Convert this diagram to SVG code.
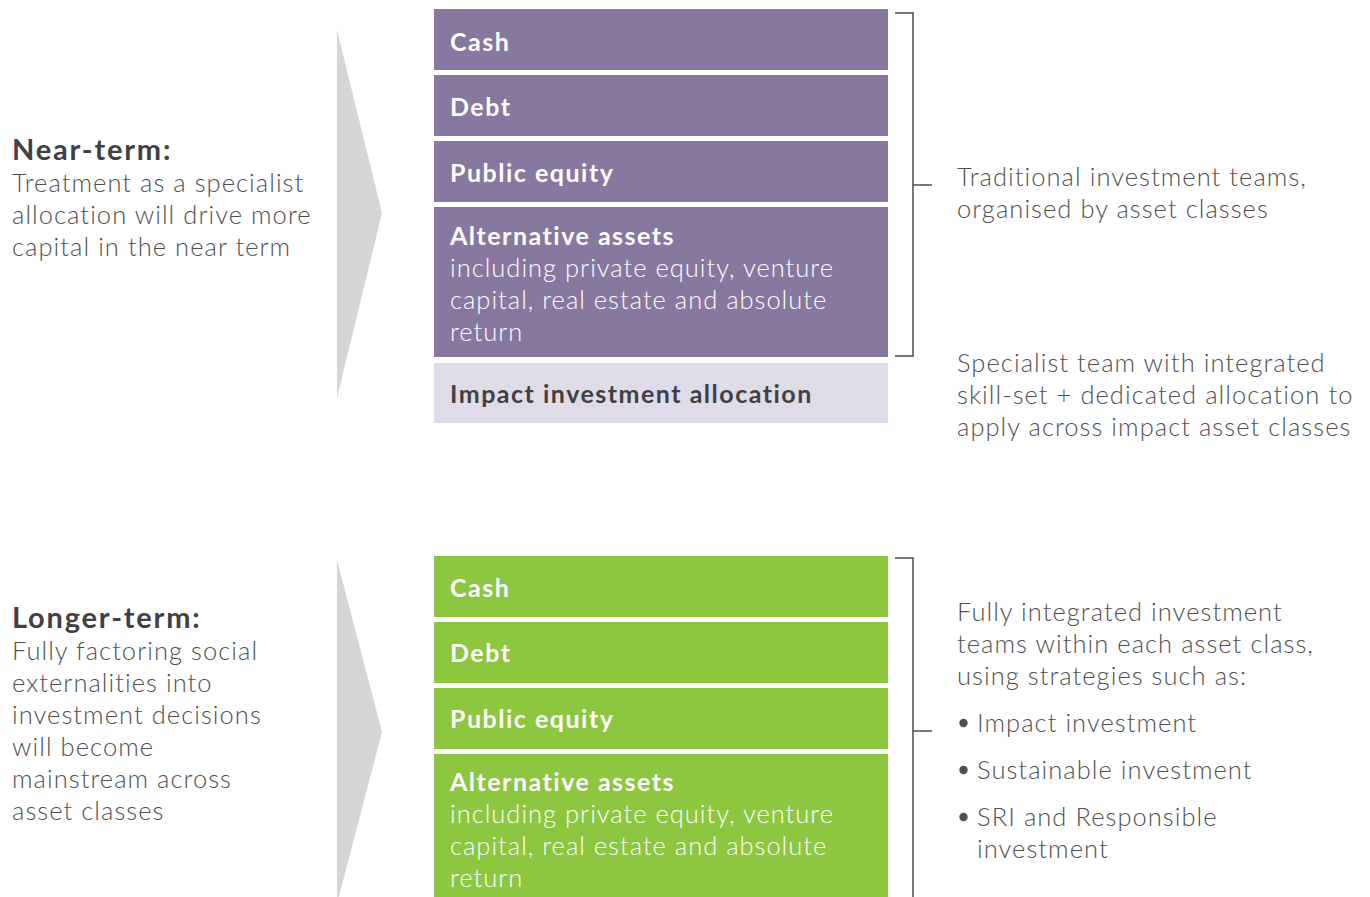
<svg xmlns="http://www.w3.org/2000/svg" width="1370" height="897" viewBox="0 0 1370 897">
<style>
.bg{fill:#ffffff}
.chev{fill:#d5d6d8}
.pur{fill:#88779e}
.lav{fill:#e0dbe8}
.grn{fill:#8dc63f}
.brk{fill:none;stroke:#4d4d4d;stroke-width:1.5}
.dot{fill:#4f4f51}
text{font-family:Lato,"Noto Sans","Liberation Sans",sans-serif}
.h{font-size:29px;font-weight:700;fill:#414042;letter-spacing:1.8px}
.b{font-size:25.5px;font-weight:300;fill:#4f4f51;letter-spacing:1.05px}
.lb{font-size:25px;font-weight:700;fill:#ffffff;letter-spacing:1.5px}
.lbd{font-size:25px;font-weight:700;fill:#414042;letter-spacing:1.5px}
.ls{font-size:25.5px;font-weight:300;fill:#ffffff;letter-spacing:1px}
</style>
<rect class="bg" x="0" y="0" width="1370" height="897"/>
<g id="near-term">
<polygon class="chev" points="337,30 382,213 337,398"/>
<text class="h" x="12" y="160">Near-term:</text>
<text class="b" x="12" y="192">Treatment as a specialist</text>
<text class="b" x="12" y="224">allocation will drive more</text>
<text class="b" x="12" y="256">capital in the near term</text>
</g>
<g id="near-cash"><rect class="pur" x="434" y="9" width="454" height="61"/><text class="lb" x="450" y="51">Cash</text></g>
<g id="near-debt"><rect class="pur" x="434" y="75" width="454" height="61"/><text class="lb" x="450" y="116">Debt</text></g>
<g id="near-public"><rect class="pur" x="434" y="141" width="454" height="61"/><text class="lb" x="450" y="182">Public equity</text></g>
<g id="near-alt"><rect class="pur" x="434" y="207" width="454" height="150"/>
<text class="lb" x="450" y="245">Alternative assets</text>
<text class="ls" x="450" y="277">including private equity, venture</text>
<text class="ls" x="450" y="309">capital, real estate and absolute</text>
<text class="ls" x="450" y="341">return</text></g>
<g id="near-impact"><rect class="lav" x="434" y="363" width="454" height="60"/><text class="lbd" x="450" y="403">Impact investment allocation</text></g>
<g id="near-traditional">
<text class="b" x="957" y="186">Traditional investment teams,</text>
<text class="b" x="957" y="218">organised by asset classes</text>
</g>
<g id="near-specialist">
<text class="b" x="957" y="372">Specialist team with integrated</text>
<text class="b" x="957" y="404">skill-set + dedicated allocation to</text>
<text class="b" x="957" y="436">apply across impact asset classes</text>
</g>
<g id="longer-term">
<polygon class="chev" points="337,560 382,732 337,904"/>
<text class="h" x="12" y="628">Longer-term:</text>
<text class="b" x="12" y="660">Fully factoring social</text>
<text class="b" x="12" y="692">externalities into</text>
<text class="b" x="12" y="724">investment decisions</text>
<text class="b" x="12" y="756">will become</text>
<text class="b" x="12" y="788">mainstream across</text>
<text class="b" x="12" y="820">asset classes</text>
</g>
<g id="long-cash"><rect class="grn" x="434" y="556" width="454" height="61"/><text class="lb" x="450" y="597">Cash</text></g>
<g id="long-debt"><rect class="grn" x="434" y="622" width="454" height="61"/><text class="lb" x="450" y="662">Debt</text></g>
<g id="long-public"><rect class="grn" x="434" y="688" width="454" height="61"/><text class="lb" x="450" y="728">Public equity</text></g>
<g id="long-alt"><rect class="grn" x="434" y="754" width="454" height="150"/>
<text class="lb" x="450" y="791">Alternative assets</text>
<text class="ls" x="450" y="823">including private equity, venture</text>
<text class="ls" x="450" y="855">capital, real estate and absolute</text>
<text class="ls" x="450" y="887">return</text></g>
<g id="long-integrated">
<text class="b" x="957" y="621">Fully integrated investment</text>
<text class="b" x="957" y="653">teams within each asset class,</text>
<text class="b" x="957" y="685">using strategies such as:</text>
<circle class="dot" cx="963.5" cy="723" r="4.2"/>
<text class="b" x="977" y="732">Impact investment</text>
<circle class="dot" cx="963.5" cy="770" r="4.2"/>
<text class="b" x="977" y="779">Sustainable investment</text>
<circle class="dot" cx="963.5" cy="817" r="4.2"/>
<text class="b" x="977" y="826">SRI and Responsible</text>
<text class="b" x="977" y="858">investment</text>
</g>
<g id="connectors">
<path class="brk" d="M895,13 H913 V356 H895 M913,185 H932"/>
<path class="brk" d="M895,558 H913 V900 M913,731 H932"/>
</g>
</svg>
